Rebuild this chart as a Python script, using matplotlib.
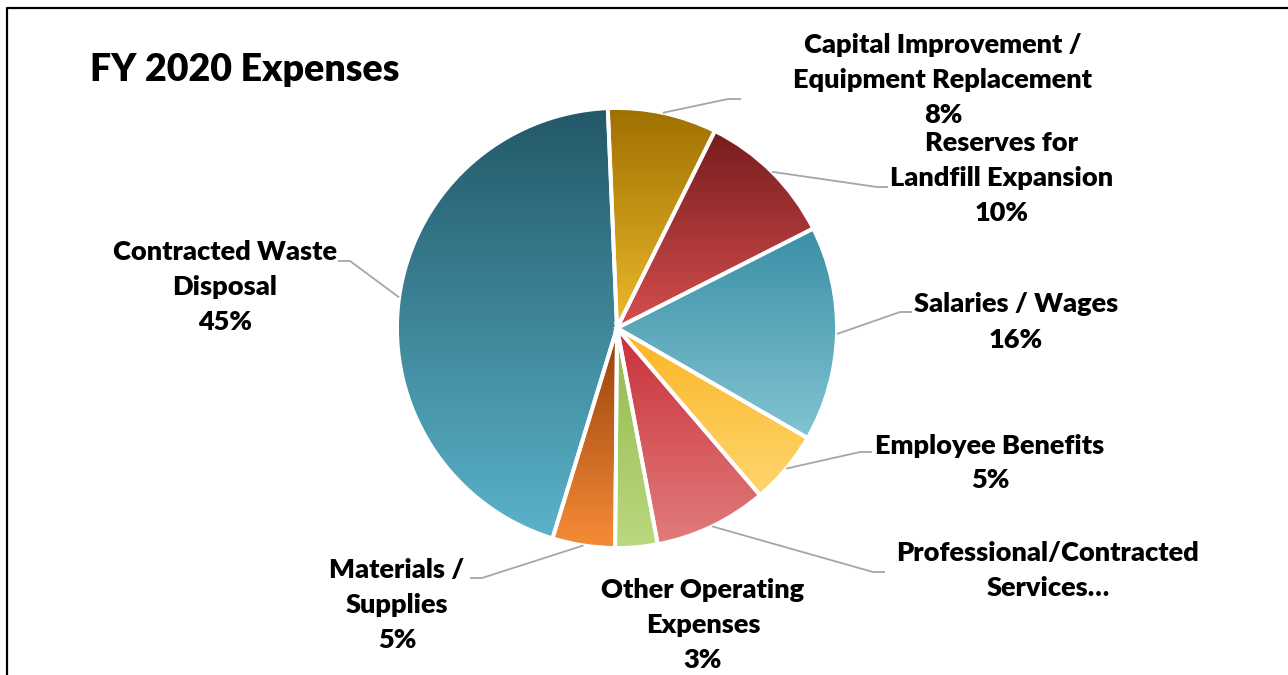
import numpy as np
import matplotlib
matplotlib.use("Agg")
import matplotlib.pyplot as plt
from matplotlib.colors import to_rgb

plt.rcParams['font.family'] = ['Lato', 'DejaVu Sans']

# FY 2020 expense shares (percent), clockwise from the top
categories = ['Capital Improvement /\nEquipment Replacement',
              'Reserves for\nLandfill Expansion',
              'Salaries / Wages',
              'Employee Benefits',
              'Professional/Contracted\nServices\u2026',
              'Other Operating\nExpenses',
              'Materials /\nSupplies',
              'Contracted Waste\nDisposal']
values = [8.0, 10.2, 15.8, 5.4, 8.3, 3.1, 4.6, 44.6]
show_pct = [True, True, True, True, False, True, True, True]

# top / bottom colours of each slice's vertical gradient
top_colors = ['#9E7000', '#761C1E', '#3A8FA6', '#FCB424',
              '#C8303A', '#92B84C', '#963E0C', '#235868']
bottom_colors = ['#EDB92C', '#D64E4E', '#82C4D2', '#FED66E',
                 '#E27C7C', '#BAD97E', '#F68C36', '#5AB3CA']

W, H = 1288, 675
fig = plt.figure(figsize=(W / 100, H / 100), dpi=100)
ax = fig.add_axes([0, 0, 1, 1])

cx, cy, R = 617, H - 328, 220
wedges, _ = ax.pie(values, startangle=92.4, counterclock=False,
                   center=(cx, cy), radius=R,
                   wedgeprops=dict(edgecolor='white', linewidth=2.8))

for w, c_top, c_bot in zip(wedges, top_colors, bottom_colors):
    ext = w.get_path().get_extents()
    t = np.linspace(0, 1, 256)[:, None, None]
    grad = (1 - t) * np.array(to_rgb(c_top)) + t * np.array(to_rgb(c_bot))
    im = ax.imshow(grad, extent=(ext.x0, ext.x1, ext.y0, ext.y1),
                   origin='upper', aspect='auto', zorder=1,
                   interpolation='bilinear')
    im.set_clip_path(w)
    w.set_facecolor('none')
    w.set_zorder(3)

# label block centres (pixels from top-left) and leader elbows
label_pos = [(943, 80), (1002, 178), (1016, 322), (990, 463),
             (1048, 570), (703, 625), (397, 605), (225, 287)]
elbows = [((728, 99), (741, 99)), ((877, 187), (888, 187)),
          ((900, 312), (912, 312)), ((860, 452), (872, 452)),
          ((873, 572), (885, 572)), None,
          ((482, 578), (470, 578)), ((350, 261), (338, 261))]
anchor_override = {7: 172.0}

for i, (w, name, v) in enumerate(zip(wedges, categories, values)):
    text = name
    if show_pct[i]:
        text += '\n{:d}%'.format(int(np.floor(v / sum(values) * 100 + 0.5)))
    lx, ly = label_pos[i]
    ax.text(lx, H - ly, text, ha='center', va='center', fontsize=19.5,
            fontweight='heavy', color='black', linespacing=1.55, zorder=5)
    if elbows[i] is not None:
        ang = anchor_override.get(i, (w.theta1 + w.theta2) / 2)
        ex = cx + R * np.cos(np.radians(ang))
        ey = cy + R * np.sin(np.radians(ang))
        (x1, y1), (x2, y2) = elbows[i]
        ax.plot([ex, x1, x2], [ey, H - y1, H - y2], color='#A6A6A6',
                lw=1.3, solid_capstyle='butt', zorder=4)

ax.text(90, H - 70, 'FY 2020 Expenses', ha='left', va='center',
        fontsize=27, fontweight='heavy', color='black')

# chart frame, running off the right and bottom edges
ax.plot([7, 7, W + 10], [-10, H - 8, H - 8], color='black', lw=1.6,
        clip_on=False, zorder=6)

ax.set_xlim(0, W)
ax.set_ylim(0, H)
ax.set_aspect('equal')
ax.axis('off')

fig.savefig('out.png', dpi=100)
